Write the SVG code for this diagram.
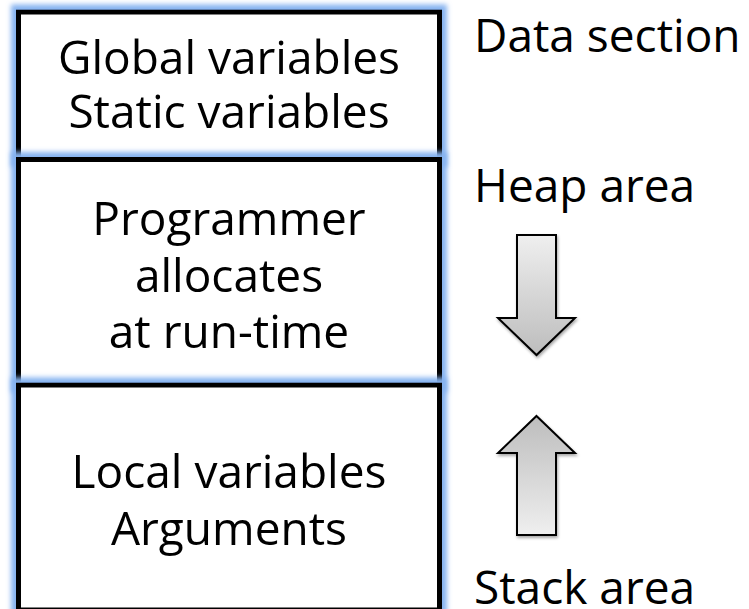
<svg xmlns="http://www.w3.org/2000/svg" width="749" height="609" viewBox="0 0 749 609">
<style>
text{font-family:"Open Sans","Noto Sans","DejaVu Sans",sans-serif;font-size:46px;fill:#000}
.c{text-anchor:middle}
.box{fill:#fff;stroke:#000;stroke-width:5}
.arrow{stroke:#000;stroke-width:2;stroke-linejoin:miter}
</style>
<defs>
<filter id="glow" x="-10%" y="-10%" width="120%" height="120%">
<feMorphology in="SourceAlpha" operator="dilate" radius="5" result="d"/>
<feGaussianBlur in="d" stdDeviation="2.5" result="b"/>
<feFlood flood-color="#86b3f0"/>
<feComposite in2="b" operator="in" result="g"/>
<feMerge><feMergeNode in="g"/><feMergeNode in="SourceGraphic"/></feMerge>
</filter>
<filter id="sh" x="-20%" y="-20%" width="140%" height="140%">
<feGaussianBlur in="SourceAlpha" stdDeviation="1.5"/>
<feOffset dx="1" dy="2" result="o"/>
<feComponentTransfer><feFuncA type="linear" slope="0.35"/></feComponentTransfer>
<feMerge><feMergeNode/><feMergeNode in="SourceGraphic"/></feMerge>
</filter>
<linearGradient id="gDown" x1="0" y1="0" x2="0" y2="1">
<stop offset="0" stop-color="#efefef"/><stop offset="1" stop-color="#bdbdbd"/>
</linearGradient>
<linearGradient id="gUp" x1="0" y1="1" x2="0" y2="0">
<stop offset="0" stop-color="#efefef"/><stop offset="1" stop-color="#bdbdbd"/>
</linearGradient>
</defs>
<g id="data-box" filter="url(#glow)">
<rect class="box" x="18.5" y="12" width="421" height="147.5"/>
<text class="c" x="229" y="74">Global variables</text>
<text class="c" x="229" y="128">Static variables</text>
</g>
<g id="heap-box" filter="url(#glow)">
<rect class="box" x="18.5" y="159.5" width="421" height="225.5"/>
<text class="c" x="229" y="235">Programmer</text>
<text class="c" x="229" y="292">allocates</text>
<text class="c" x="229" y="348">at run-time</text>
</g>
<g id="stack-box" filter="url(#glow)">
<rect class="box" x="18.5" y="385" width="421" height="225"/>
<text class="c" x="229" y="488">Local variables</text>
<text class="c" x="229" y="545">Arguments</text>
</g>
<g id="labels">
<text x="474" y="52">Data section</text>
<text x="474" y="202">Heap area</text>
<text x="474" y="604">Stack area</text>
</g>
<g id="connectors">
<path class="arrow" fill="url(#gDown)" filter="url(#sh)" d="M517,235 H556 V318 H575 L536.5,355 L498,318 H517 Z"/>
<path class="arrow" fill="url(#gUp)" filter="url(#sh)" d="M536.5,416 L575,453 H556 V535 H517 V453 H498 Z"/>
</g>
</svg>
